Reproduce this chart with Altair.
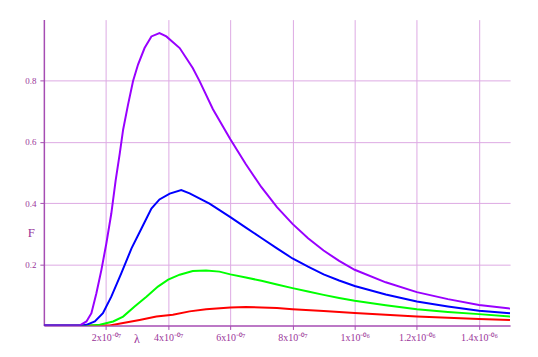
import altair as alt
import pandas as pd

# wavelength in units of 1e-7 m, F values
violet_lam = [0, 1.16, 1.37, 1.53, 1.69, 1.85, 2.01, 2.17, 2.31, 2.44, 2.55, 2.71, 2.87, 3.03, 3.24, 3.46,
              3.72, 3.94, 4.37, 4.79, 5.01, 5.44, 6.0, 6.5, 7.0, 7.5, 8.0, 8.5, 9.0, 9.5, 10.0,
              11.0, 12.0, 13.0, 14.0, 15.0]
violet_F = [0, 0, 0.013, 0.040, 0.105, 0.181, 0.268, 0.366, 0.474, 0.561, 0.640, 0.723, 0.799, 0.853, 0.907,
            0.945, 0.956, 0.945, 0.907, 0.842, 0.799, 0.707, 0.609, 0.527, 0.452, 0.387, 0.332, 0.285,
            0.245, 0.211, 0.182, 0.141, 0.109, 0.086, 0.067, 0.055]

blue_lam = [0, 1.25, 1.37, 1.64, 1.90, 2.17, 2.49, 2.82, 3.14, 3.46, 3.72, 4.05, 4.42, 4.69, 5.33, 6.0,
            6.5, 7.0, 7.5, 8.0, 8.5, 9.0, 9.5, 10.0, 11.0, 12.0, 13.0, 14.0, 15.0]
blue_F = [0, 0, 0.002, 0.013, 0.040, 0.094, 0.170, 0.252, 0.317, 0.382, 0.412, 0.431, 0.443, 0.432, 0.398,
          0.354, 0.320, 0.286, 0.252, 0.219, 0.192, 0.167, 0.147, 0.129, 0.101, 0.078, 0.062, 0.048, 0.040]

green_lam = [0, 1.50, 1.80, 2.23, 2.55, 2.92, 3.30, 3.67, 4.00, 4.37, 4.79, 5.22, 5.65, 6.0, 6.5, 7.0,
             7.5, 8.0, 8.5, 9.0, 9.5, 10.0, 11.0, 12.0, 13.0, 14.0, 15.0]
green_F = [0, 0, 0.002, 0.013, 0.029, 0.062, 0.094, 0.127, 0.150, 0.166, 0.178, 0.180, 0.176, 0.167, 0.157,
           0.146, 0.134, 0.122, 0.111, 0.100, 0.090, 0.081, 0.066, 0.053, 0.044, 0.037, 0.029]

red_lam = [0, 2.12, 2.55, 3.08, 3.62, 4.15, 4.69, 5.22, 6.0, 6.5, 7.0, 7.5, 8.0, 9.0, 10.0, 11.0,
           12.0, 13.0, 14.0, 15.0]
red_F = [0, 0, 0.008, 0.018, 0.029, 0.035, 0.046, 0.053, 0.059, 0.060, 0.059, 0.057, 0.053, 0.047, 0.041,
         0.035, 0.029, 0.025, 0.021, 0.018]

series = [  # drawn bottom to top
    ("red", red_lam, red_F, "#FF0000"),
    ("green", green_lam, green_F, "#00FF00"),
    ("blue", blue_lam, blue_F, "#0000FF"),
    ("violet", violet_lam, violet_F, "#9900FF"),
]

x_ticks = [2, 4, 6, 8, 10, 12, 14]
x_tick_labels = ["2x10⁻⁰⁷", "4x10⁻⁰⁷", "6x10⁻⁰⁷", "8x10⁻⁰⁷", "1x10⁻⁰⁶", "1.2x10⁻⁰⁶", "1.4x10⁻⁰⁶"]
y_ticks = [0.2, 0.4, 0.6, 0.8]

label_expr = " : ".join(f"datum.value == {v} ? '{l}'" for v, l in zip(x_ticks, x_tick_labels)) + " : ''"

AXIS_COL = "#A64DB3"
GRID_COL = "#DDAAE3"
TEXT_COL = "#993399"
FONT = "Liberation Serif"

x_enc = alt.X("lam:Q", scale=alt.Scale(domain=[0, 15], nice=False, zero=False),
              axis=alt.Axis(values=x_ticks, labelExpr=label_expr, title="λ", titleX=93, titleY=13,
                            titleAlign="center", titleBaseline="middle", titleFontSize=12,
                            titleFontWeight="normal", titleColor=TEXT_COL, titleFont=FONT,
                            labelFontSize=10, labelPadding=3, labelFlush=False, labelOverlap=False))
y_enc = alt.Y("F:Q", scale=alt.Scale(domain=[0, 1.0], nice=False),
              axis=alt.Axis(values=y_ticks, format=".1f", title="F", titleAngle=0, titleX=-13, titleY=214,
                            titleAlign="center", titleBaseline="middle", titleFontSize=13,
                            titleFontWeight="normal", titleColor=TEXT_COL, titleFont=FONT,
                            labelFontSize=9, labelPadding=4))

layers = []
for name, lam, F, col in series:
    df = pd.DataFrame({"lam": lam, "F": F, "series": name})
    layers.append(
        alt.Chart(df).mark_line(color=col, strokeWidth=2, clip=True).encode(
            x=x_enc, y=y_enc, order="lam:Q"
        )
    )

chart = alt.layer(*layers).properties(
    width=468, height=307,
    padding={"left": 36, "top": 11, "right": 20, "bottom": 25},
    autosize=alt.AutoSizeParams(type="none"),
    background="white",
).configure_view(stroke=None).configure_axis(
    domainColor=AXIS_COL, domainWidth=1.5, tickColor=AXIS_COL, tickSize=4,
    gridColor=GRID_COL, gridWidth=1, gridOpacity=1,
    labelColor=TEXT_COL, labelFont=FONT,
)

chart.save("out.html", embed_options={"renderer": "svg", "actions": False})
